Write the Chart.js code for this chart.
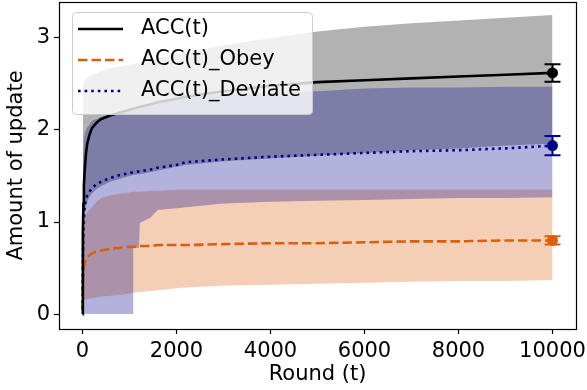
<!DOCTYPE html>
<html>
<head>
<meta charset="utf-8">
<script src="https://cdn.jsdelivr.net/npm/chart.js@4.4.1/dist/chart.umd.min.js"></script>
<style>
  html, body { margin: 0; padding: 0; background: #fff; }
</style>
</head>
<body>
<canvas id="accChart" width="587" height="390"></canvas>
<script>
// x positions (round t) shared by every series
var rounds = [0, 5, 10, 20, 30, 50, 75, 100, 150, 200, 300, 400, 600, 800, 1000,
  1075, 1080, 1200, 1220, 1450, 1600, 2000, 2200, 3000, 4000, 5000, 6000, 7000, 8000, 9000, 10000];

// mean curves
var accMean = [0, 0.6, 0.9, 1.2, 1.4, 1.58, 1.75, 1.85, 1.95, 2.02, 2.08, 2.12, 2.16, 2.19, 2.22,
  2.23, 2.23, 2.25, 2.25, 2.28, 2.3, 2.34, 2.36, 2.42, 2.48, 2.52, 2.54, 2.56, 2.58, 2.6, 2.62];
var obeyMean = [0.05, 0.2, 0.35, 0.45, 0.5, 0.56, 0.6, 0.62, 0.64, 0.66, 0.68, 0.69, 0.71, 0.72, 0.73,
  0.73, 0.73, 0.74, 0.74, 0.74, 0.75, 0.75, 0.75, 0.76, 0.77, 0.77, 0.78, 0.79, 0.79, 0.8, 0.8];
var deviateMean = [0.05, 0.4, 0.65, 0.9, 1.05, 1.18, 1.25, 1.29, 1.33, 1.37, 1.41, 1.44, 1.48, 1.51, 1.53,
  1.54, 1.54, 1.55, 1.55, 1.57, 1.59, 1.62, 1.65, 1.68, 1.71, 1.73, 1.75, 1.77, 1.78, 1.8, 1.83];

// shaded bands (upper / lower)
var accUpper = [0, 2.3, 2.45, 2.5, 2.52, 2.55, 2.56, 2.57, 2.58, 2.6, 2.62, 2.64, 2.67, 2.69, 2.71,
  2.72, 2.72, 2.73, 2.73, 2.76, 2.78, 2.82, 2.84, 2.92, 3.0, 3.07, 3.12, 3.16, 3.19, 3.22, 3.25];
var accLower = [0, 0.35, 0.6, 0.85, 1.0, 1.12, 1.18, 1.22, 1.27, 1.31, 1.36, 1.39, 1.44, 1.47, 1.5,
  1.51, 1.51, 1.52, 1.52, 1.54, 1.56, 1.6, 1.62, 1.66, 1.69, 1.72, 1.75, 1.78, 1.8, 1.83, 1.85];
var obeyUpper = [0, 0.5, 0.75, 0.9, 0.98, 1.05, 1.09, 1.11, 1.13, 1.16, 1.22, 1.26, 1.29, 1.31, 1.32,
  1.33, 1.33, 1.33, 1.33, 1.34, 1.34, 1.35, 1.35, 1.35, 1.35, 1.35, 1.35, 1.35, 1.35, 1.35, 1.35];
var obeyLower = [0, 0.1, 0.13, 0.14, 0.15, 0.15, 0.16, 0.16, 0.17, 0.17, 0.18, 0.19, 0.2, 0.21, 0.22,
  0.23, 0.23, 0.24, 0.24, 0.25, 0.26, 0.28, 0.29, 0.31, 0.32, 0.33, 0.34, 0.35, 0.36, 0.36, 0.37];
var deviateUpper = [0, 1.2, 1.6, 1.8, 1.9, 1.97, 2.0, 2.03, 2.06, 2.1, 2.12, 2.14, 2.17, 2.2, 2.23,
  2.24, 2.24, 2.25, 2.25, 2.28, 2.3, 2.35, 2.37, 2.39, 2.4, 2.42, 2.45, 2.46, 2.46, 2.47, 2.47];
var deviateLower = [0, 0, 0, 0, 0, 0, 0, 0, 0, 0, 0, 0, 0, 0, 0,
  0, 0.72, 0.72, 0.99, 1.05, 1.13, 1.15, 1.16, 1.2, 1.22, 1.23, 1.24, 1.25, 1.26, 1.26, 1.27];

// error bars at the last round
var errRound = 10000;
var errMeans = [2.62, 1.83, 0.8];
var errSizes = [0.095, 0.105, 0.045];

var seriesLabels = ["ACC(t)", "ACC(t)_Obey", "ACC(t)_Deviate"];
var xTicks = [0, 2000, 4000, 6000, 8000, 10000];
var yTicks = [0, 1, 2, 3];

var colBlack = "#000000";
var colOrange = "#d95f0e";
var colNavy = "#00008b";

function pts(ys) {
  return rounds.map(function (r, i) { return { x: r, y: ys[i] }; });
}

function band(upper, lower, fillColor, order) {
  return [
    { data: pts(upper), borderWidth: 0, pointRadius: 0, fill: false, order: order },
    { data: pts(lower), borderWidth: 0, pointRadius: 0, fill: "-1", backgroundColor: fillColor, order: order }
  ];
}

Chart.defaults.font.family = "'DejaVu Sans', sans-serif";
Chart.defaults.font.size = 21;
Chart.defaults.color = "#000";

var lineDatasets = [
  { label: seriesLabels[0], data: pts(accMean), borderColor: colBlack, borderWidth: 2.6, pointRadius: 0, fill: false, order: 0 },
  { label: seriesLabels[1], data: pts(obeyMean), borderColor: colOrange, borderWidth: 2.6, borderDash: [9.5, 4], pointRadius: 0, fill: false, order: 0 },
  { label: seriesLabels[2], data: pts(deviateMean), borderColor: colNavy, borderWidth: 2.6, borderDash: [2.6, 4], pointRadius: 0, fill: false, order: 0 }
];

var datasets = []
  .concat(band(accUpper, accLower, "rgba(0, 0, 0, 0.3)", 3))
  .concat(band(obeyUpper, obeyLower, "rgba(217, 95, 14, 0.3)", 2))
  .concat(band(deviateUpper, deviateLower, "rgba(0, 0, 139, 0.3)", 1))
  .concat(lineDatasets);

// error bars with caps and round markers
var errorBarPlugin = {
  id: "errorBars",
  afterDatasetsDraw: function (chart) {
    var ctx = chart.ctx, xs = chart.scales.x, ys = chart.scales.y;
    var px = xs.getPixelForValue(errRound);
    var cols = [colBlack, colNavy, colOrange];
    ctx.save();
    errMeans.forEach(function (m, i) {
      var top = ys.getPixelForValue(m + errSizes[i]);
      var bot = ys.getPixelForValue(m - errSizes[i]);
      var mid = ys.getPixelForValue(m);
      ctx.strokeStyle = cols[i];
      ctx.fillStyle = cols[i];
      ctx.lineWidth = 2;
      ctx.beginPath();
      ctx.moveTo(px, top); ctx.lineTo(px, bot);
      ctx.moveTo(px - 8, top); ctx.lineTo(px + 8, top);
      ctx.moveTo(px - 8, bot); ctx.lineTo(px + 8, bot);
      ctx.stroke();
      ctx.beginPath();
      ctx.arc(px, mid, 5.5, 0, Math.PI * 2);
      ctx.fill();
    });
    ctx.restore();
  }
};

// matplotlib-like frame + legend box inside the plot
var framePlugin = {
  id: "frameLegend",
  afterDraw: function (chart) {
    var ctx = chart.ctx, a = chart.chartArea;
    ctx.save();
    ctx.strokeStyle = "#000";
    ctx.lineWidth = 1.2;
    ctx.strokeRect(a.left + 0.5, a.top + 0.5, a.right - a.left, a.bottom - a.top);

    var bx = 72, by = 12, bw = 240, bh = 102;
    ctx.beginPath();
    ctx.roundRect(bx + 0.5, by + 0.5, bw, bh, 4);
    ctx.fillStyle = "rgba(255, 255, 255, 0.8)";
    ctx.fill();
    ctx.strokeStyle = "#cccccc";
    ctx.lineWidth = 1;
    ctx.stroke();

    lineDatasets.forEach(function (ds, i) {
      var y = 29 + i * 31;
      ctx.beginPath();
      ctx.setLineDash(ds.borderDash || []);
      ctx.strokeStyle = ds.borderColor;
      ctx.lineWidth = ds.borderWidth;
      ctx.moveTo(78, y); ctx.lineTo(123, y);
      ctx.stroke();
      ctx.setLineDash([]);
      ctx.fillStyle = "#000";
      ctx.font = "21px 'DejaVu Sans', sans-serif";
      ctx.textBaseline = "middle";
      ctx.textAlign = "left";
      ctx.fillText(ds.label, 141, y);
    });
    ctx.restore();
  }
};

function plainTick(v) { return String(v); }

var ctx = document.getElementById("accChart").getContext("2d");
var accChart = new Chart(ctx, {
  type: "line",
  data: { datasets: datasets },
  plugins: [errorBarPlugin, framePlugin],
  options: {
    responsive: false,
    animation: false,
    layout: { padding: { top: 2, right: 11, left: 0, bottom: 0 } },
    elements: { line: { tension: 0, borderCapStyle: "butt" } },
    scales: {
      x: {
        type: "linear",
        min: -500,
        max: 10500,
        afterBuildTicks: function (s) { s.ticks = xTicks.map(function (v) { return { value: v }; }); },
        afterFit: function (s) { s.height = 61; s.paddingLeft = 0; s.paddingRight = 0; },
        ticks: { padding: 5, maxRotation: 0, color: "#000", callback: plainTick },
        grid: { drawOnChartArea: false, color: "#000", tickLength: 5, tickWidth: 1.2 },
        border: { display: false },
        title: { display: true, text: "Round (t)", color: "#000", padding: { top: 0, bottom: 3 } }
      },
      y: {
        type: "linear",
        min: -0.162,
        max: 3.39,
        afterBuildTicks: function (s) { s.ticks = yTicks.map(function (v) { return { value: v }; }); },
        afterFit: function (s) { s.width = 59; s.paddingTop = 0; s.paddingBottom = 0; },
        ticks: { padding: 4, color: "#000", callback: plainTick },
        grid: { drawOnChartArea: false, color: "#000", tickLength: 5, tickWidth: 1.2 },
        border: { display: false },
        title: { display: true, text: "Amount of update", color: "#000", padding: { top: 4, bottom: 0 } }
      }
    },
    plugins: {
      legend: { display: false },
      tooltip: { enabled: false }
    }
  }
});
</script>
</body>
</html>
